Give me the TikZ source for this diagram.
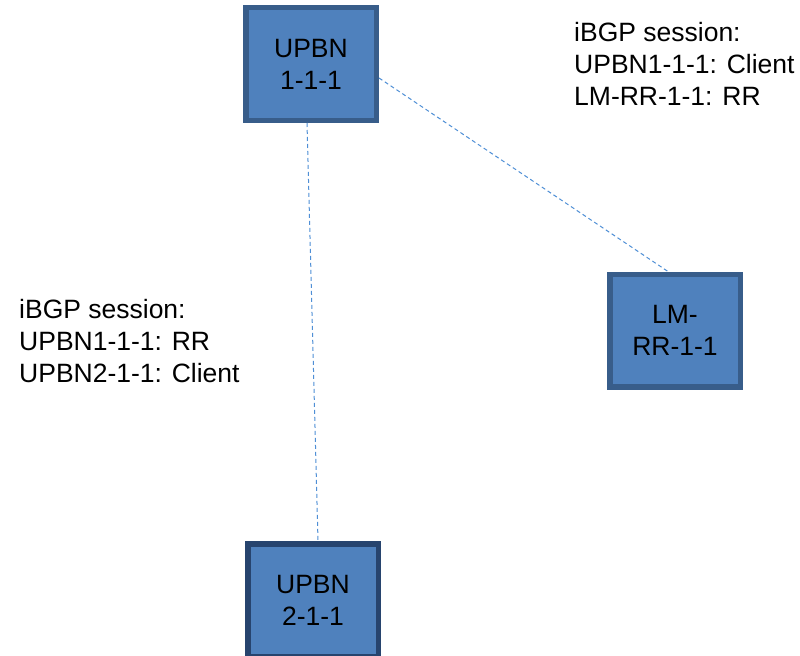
\documentclass[tikz,border=0pt]{standalone}
\usepackage{fontspec}
\setmainfont{Liberation Sans}
\definecolor{boxfill}{HTML}{4F81BD}
\definecolor{boxline}{HTML}{385D8A}
\definecolor{boxlinedark}{HTML}{27446E}
\definecolor{linkblue}{HTML}{4F8FD6}
\tikzset{
  router/.style={draw=boxline, fill=boxfill, line width=5.5bp,
    minimum width=130.5bp, minimum height=112.5bp, inner sep=0pt,
    align=center, font=\fontsize{26.5bp}{32bp}\selectfont},
  session/.style={dash pattern=on 4bp off 3bp, draw=linkblue, line width=1bp},
  note/.style={anchor=north west, inner sep=0pt, align=left,
    font=\fontsize{26.5bp}{32bp}\selectfont}
}
\begin{document}
\begin{tikzpicture}[x=1bp,y=-1bp]
\useasboundingbox (0,0) rectangle (800,656);
\clip (0,0) rectangle (800,656);
\fill[white] (0,0) rectangle (800,656);

% routers
\node[router] (u1) at (311,64) {UPBN\\1-1-1};
\node[router] (rr) at (675,330.5) {LM-\\RR-1-1};
\node[router, draw=boxlinedark] (u2) at (313,600) {UPBN\\2-1-1};

% iBGP sessions
\draw[session] ([yshift=-14bp]u1.east) -- ([xshift=-7bp]rr.north);
\draw[session] ([xshift=-4bp]u1.south) -- ([xshift=5bp]u2.north);

% session notes
\node[note] (n1) at (574,22.5) {iBGP session:\\UPBN1-1-1: Client\\LM-RR-1-1: RR};
\node[note] (n2) at (19,299.5) {iBGP session:\\UPBN1-1-1: RR\\UPBN2-1-1: Client};
\end{tikzpicture}
\end{document}
